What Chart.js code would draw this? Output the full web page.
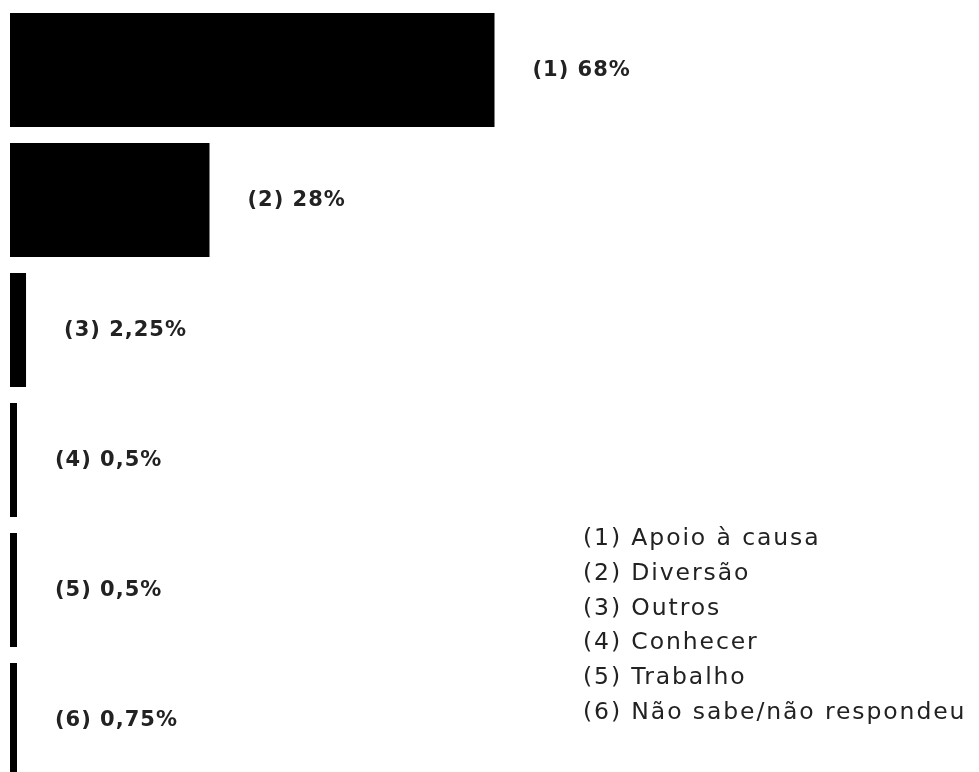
<!DOCTYPE html>
<html>
<head>
<meta charset="utf-8">
<script src="https://cdn.jsdelivr.net/npm/chart.js@4.4.1/dist/chart.umd.min.js"></script>
<style>
    body { margin: 0; background: #fff; overflow: hidden; }
    #wrap { position: relative; width: 979px; height: 785px; }
    #legend {
        position: absolute;
        left: 583px;
        top: 520px;
        font-family: "DejaVu Sans", sans-serif;
        font-size: 23.5px;
        line-height: 34.8px;
        color: #222;
        letter-spacing: 1.9px;
        white-space: nowrap;
    }
</style>
</head>
<body>
<div id="wrap">
    <canvas id="chart" width="979" height="785"></canvas>
    <div id="legend"></div>
</div>
<script>
let categories = ['(1)', '(2)', '(3)', '(4)', '(5)', '(6)'];
let values = [68, 28, 2.25, 0.5, 0.5, 0.75];
let valueLabels = ['68%', '28%', '2,25%', '0,5%', '0,5%', '0,75%'];
let legendNames = ['Apoio à causa', 'Diversão', 'Outros', 'Conhecer', 'Trabalho', 'Não sabe/não respondeu'];

let legendBox = document.getElementById('legend');
categories.forEach((cat, i) => {
    let line = document.createElement('div');
    line.textContent = cat + ' ' + legendNames[i];
    legendBox.appendChild(line);
});

// labels to the right of each bar
let barLabels = {
    id: 'barLabels',
    afterDatasetsDraw(chart) {
        let ctx = chart.ctx;
        let meta = chart.getDatasetMeta(0);
        ctx.save();
        ctx.font = 'bold 21px "DejaVu Sans", sans-serif';
        ctx.letterSpacing = '1px';
        ctx.fillStyle = '#222';
        ctx.textBaseline = 'middle';
        ctx.textAlign = 'left';
        meta.data.forEach((bar, i) => {
            ctx.fillText(categories[i] + ' ' + valueLabels[i], bar.x + 38, bar.y + 1);
        });
        ctx.restore();
    }
};

new Chart(document.getElementById('chart').getContext('2d'), {
    type: 'bar',
    data: {
        labels: categories,
        datasets: [{
            data: values,
            backgroundColor: '#000',
            borderWidth: 0,
            minBarLength: 7,
            barPercentage: 0.877,
            categoryPercentage: 1
        }]
    },
    options: {
        indexAxis: 'y',
        responsive: false,
        animation: false,
        layout: {
            padding: { left: 10, top: 5, right: 0, bottom: 0 }
        },
        scales: {
            x: { display: false, min: 0, max: 136 },
            y: { display: false }
        },
        plugins: {
            legend: { display: false },
            tooltip: { enabled: false }
        }
    },
    plugins: [barLabels]
});
</script>
</body>
</html>
